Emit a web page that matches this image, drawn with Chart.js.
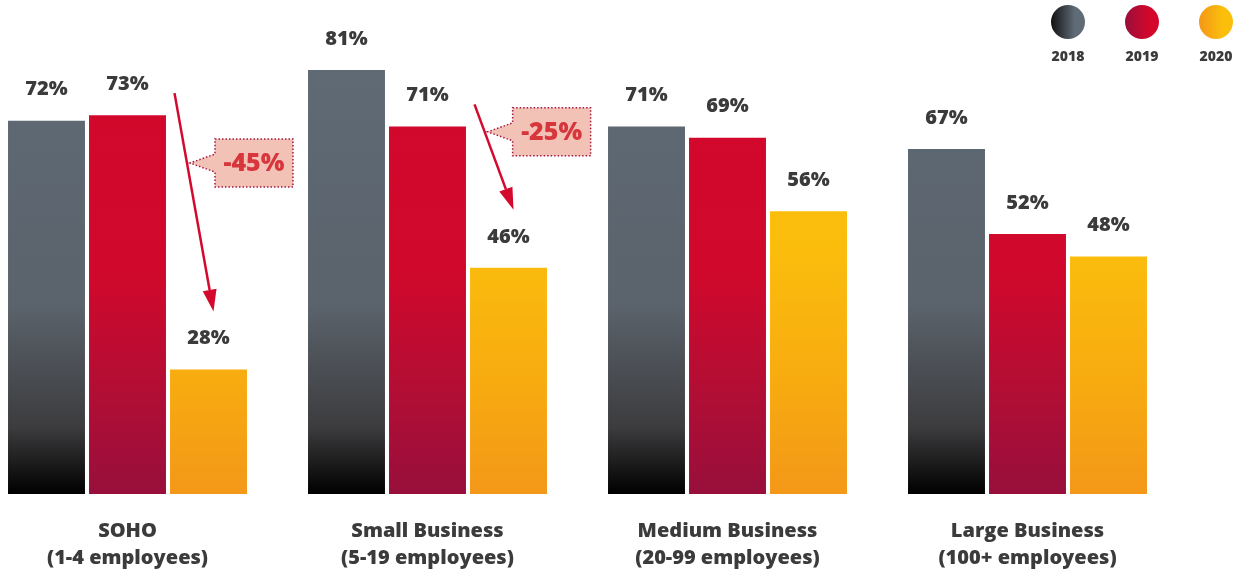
<!DOCTYPE html>
<html>
<head>
<meta charset="utf-8">
<script src="https://cdn.jsdelivr.net/npm/chart.js@4.4.0/dist/chart.umd.min.js"></script>
<style>
    html, body { margin: 0; padding: 0; background: #fff; }
    #wrap { position: relative; width: 1246px; height: 571px; overflow: hidden; }
    #adoptionChart { position: absolute; left: -30px; top: 0; }
</style>
</head>
<body>
<div id="wrap">
    <canvas id="adoptionChart" width="1276" height="571"></canvas>
</div>
<script>
// Chart data
const categories = [
    ['SOHO', '(1-4 employees)'],
    ['Small Business', '(5-19 employees)'],
    ['Medium Business', '(20-99 employees)'],
    ['Large Business', '(100+ employees)']
];
const years = ['2018', '2019', '2020'];
const values2018 = [72, 81, 71, 67];
const values2019 = [73, 71, 69, 52];
const values2020 = [28, 46, 56, 48];

// Categories that get a drop arrow (2019 -> 2020)
const highlighted = [0, 1];

const SHIFT = 30; // canvas sits 30px left of the page edge
const FONT = '"Open Sans", Lato, sans-serif';
const WEIGHT = '800';
const TEXT = '#3b3b3b';

// top colour, mid stop, bottom colour for each year
const palette = [
    { top: '#5f6b76', mid: '#5b636c', midAt: 0.6, low: '#3c3c3e', lowAt: 0.86, bottom: '#000000' },
    { top: '#d3072b', mid: '#d0092c', midAt: 0.54, low: '#b00e35', lowAt: 0.8, bottom: '#980f3c' },
    { top: '#fbbf0b', mid: '#fbbd0c', midAt: 0.48, low: '#f7aa10', lowAt: 0.78, bottom: '#f39718' }
];

function barGradient(idx) {
    return (context) => {
        const area = context.chart.chartArea;
        if (!area) return palette[idx].top;
        const p = palette[idx];
        const g = context.chart.ctx.createLinearGradient(0, area.top, 0, area.bottom);
        g.addColorStop(0, p.top);
        g.addColorStop(p.midAt, p.mid);
        g.addColorStop(p.lowAt, p.low);
        g.addColorStop(1, p.bottom);
        return g;
    };
}

// Percent labels above each bar
const valueLabels = {
    id: 'valueLabels',
    afterDatasetsDraw(chart) {
        const ctx = chart.ctx;
        ctx.save();
        ctx.font = `${WEIGHT} 20px ${FONT}`;
        ctx.fillStyle = TEXT;
        ctx.textAlign = 'center';
        ctx.textBaseline = 'middle';
        chart.data.datasets.forEach((ds, i) => {
            chart.getDatasetMeta(i).data.forEach((bar, j) => {
                ctx.fillText(ds.data[j] + '%', bar.x, bar.y - 31);
            });
        });
        ctx.restore();
    }
};

// Red arrows with dotted callouts showing the drop
const dropCallouts = {
    id: 'dropCallouts',
    afterDatasetsDraw(chart) {
        const ctx = chart.ctx;
        const m19 = chart.getDatasetMeta(1).data;
        const m20 = chart.getDatasetMeta(2).data;
        const tipAt = [0.32, 0.26];
        ctx.save();
        highlighted.forEach((j, k) => {
            const sx = m19[j].x + 47, sy = m19[j].y - 22;
            const ex = m20[j].x + 5, ey = m20[j].y - 58;

            // arrow shaft
            const ang = Math.atan2(ey - sy, ex - sx);
            const headLen = 22, headW = 7;
            const bx = ex - Math.cos(ang) * headLen, by = ey - Math.sin(ang) * headLen;
            ctx.strokeStyle = '#d4092e';
            ctx.fillStyle = '#d4092e';
            ctx.lineWidth = 2.5;
            ctx.beginPath();
            ctx.moveTo(sx, sy);
            ctx.lineTo(bx, by);
            ctx.stroke();
            // arrow head
            ctx.beginPath();
            ctx.moveTo(ex, ey);
            ctx.lineTo(bx + Math.sin(ang) * headW, by - Math.cos(ang) * headW);
            ctx.lineTo(bx - Math.sin(ang) * headW, by + Math.cos(ang) * headW);
            ctx.closePath();
            ctx.fill();

            // callout box
            const t = tipAt[k];
            const tx = sx + (ex - sx) * t + 3, ty = sy + (ey - sy) * t;
            const w = 78, h = 48;
            const left = tx + 25, top = ty - h / 2;
            ctx.beginPath();
            ctx.moveTo(left, top);
            ctx.lineTo(left + w, top);
            ctx.lineTo(left + w, top + h);
            ctx.lineTo(left, top + h);
            ctx.lineTo(left, ty + 9);
            ctx.lineTo(tx, ty);
            ctx.lineTo(left, ty - 9);
            ctx.closePath();
            ctx.fillStyle = '#f3c2b6';
            ctx.fill();
            ctx.setLineDash([1.5, 2]);
            ctx.lineWidth = 1.5;
            ctx.strokeStyle = '#a3173e';
            ctx.stroke();
            ctx.setLineDash([]);

            const diff = values2020[j] - values2019[j];
            ctx.font = `${WEIGHT} 25px ${FONT}`;
            ctx.fillStyle = '#d8363d';
            ctx.textAlign = 'center';
            ctx.textBaseline = 'middle';
            ctx.fillText(diff + '%', left + w / 2, ty + 1);
        });
        ctx.restore();
    }
};

// Round legend markers in the top right corner
const circleLegend = {
    id: 'circleLegend',
    afterDraw(chart) {
        const ctx = chart.ctx;
        const xs = [1068, 1142, 1216];
        ctx.save();
        years.forEach((year, i) => {
            const cx = xs[i] + SHIFT, cy = 22, r = 17;
            const g = ctx.createLinearGradient(cx - r, 0, cx + r, 0);
            g.addColorStop(0, palette[i].bottom === '#000000' ? '#111111' : palette[i].bottom);
            g.addColorStop(0.7, palette[i].top);
            g.addColorStop(1, palette[i].top);
            ctx.fillStyle = g;
            ctx.beginPath();
            ctx.arc(cx, cy, r, 0, Math.PI * 2);
            ctx.fill();
            ctx.font = `${WEIGHT} 14px ${FONT}`;
            ctx.fillStyle = TEXT;
            ctx.textAlign = 'center';
            ctx.textBaseline = 'middle';
            ctx.fillText(year, cx, 57);
        });
        ctx.restore();
    }
};

const series = [values2018, values2019, values2020];

new Chart(document.getElementById('adoptionChart'), {
    type: 'bar',
    data: {
        labels: categories,
        datasets: years.map((year, i) => ({
            label: year,
            data: series[i],
            backgroundColor: barGradient(i),
            borderWidth: 0,
            categoryPercentage: 0.81,
            barPercentage: 0.95
        }))
    },
    options: {
        responsive: false,
        animation: false,
        devicePixelRatio: 1,
        layout: { padding: { left: 7.5, right: 68.5, top: 19, bottom: 0 } },
        plugins: {
            legend: { display: false },
            tooltip: { enabled: false }
        },
        scales: {
            x: {
                grid: { display: false, drawTicks: false },
                border: { display: false },
                ticks: {
                    color: TEXT,
                    font: { family: FONT, size: 20, weight: WEIGHT, lineHeight: 1.35 },
                    padding: 24
                },
                afterFit(axis) { axis.height = 77; }
            },
            y: {
                display: false,
                min: 6,
                max: 90
            }
        }
    },
    plugins: [valueLabels, dropCallouts, circleLegend]
});
</script>
</body>
</html>
